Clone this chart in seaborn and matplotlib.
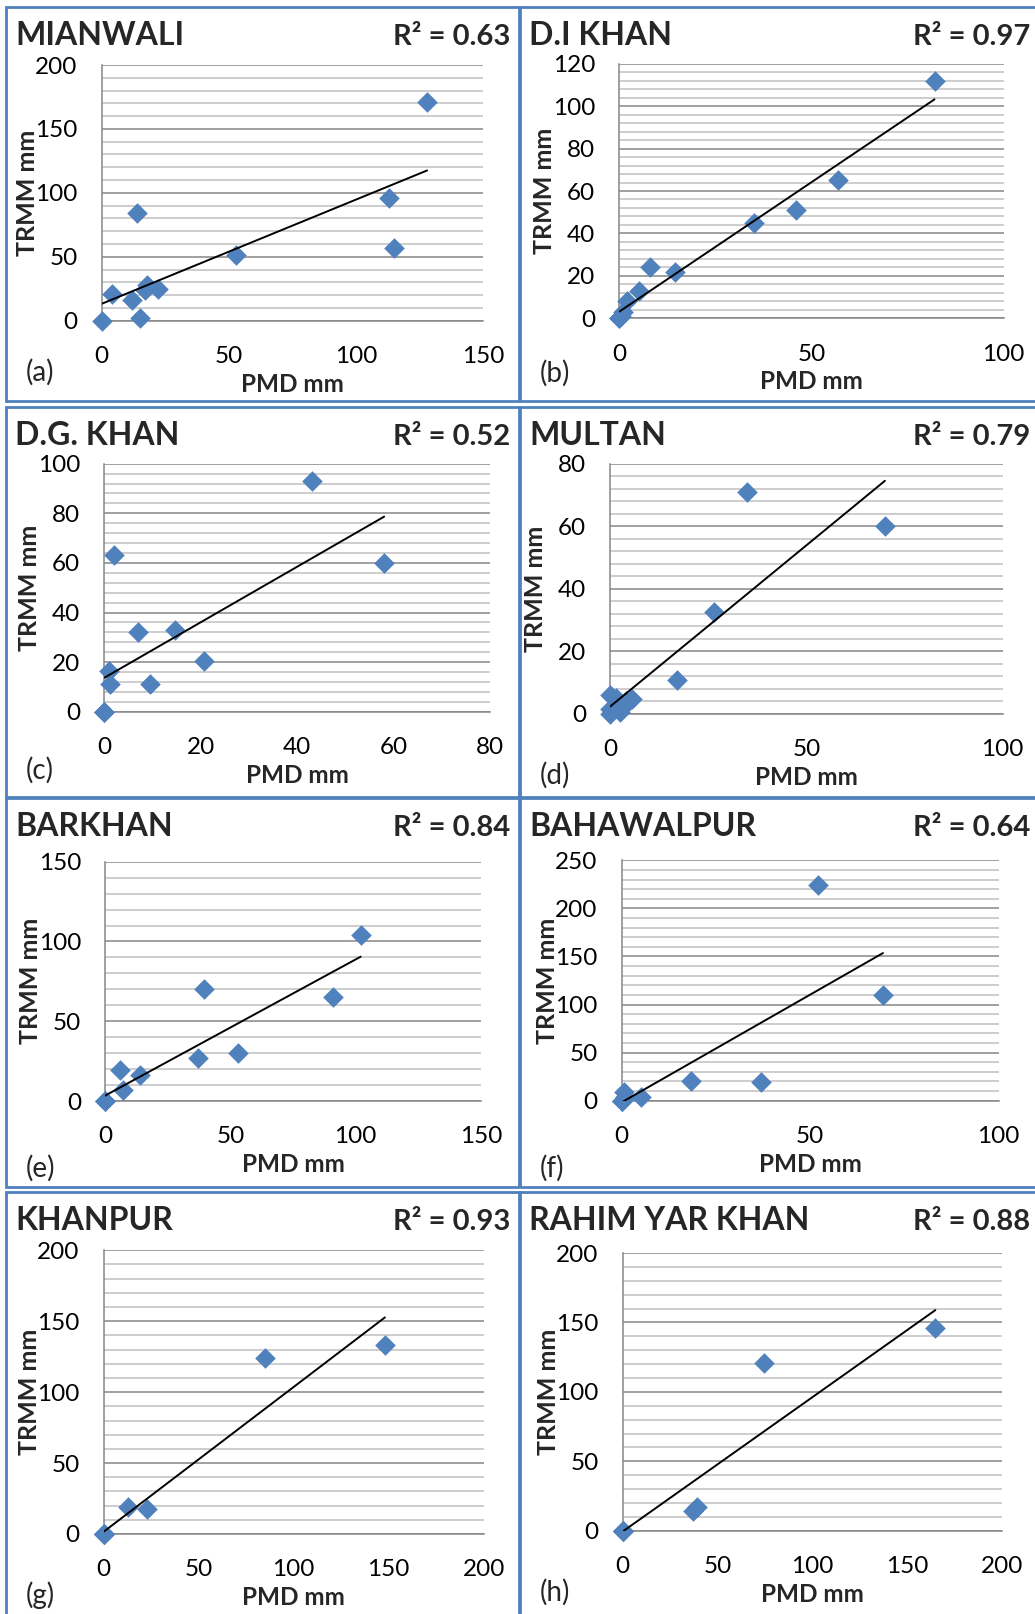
import numpy as np
import pandas as pd
import matplotlib
matplotlib.use("Agg")
import matplotlib.pyplot as plt
from matplotlib.patches import Rectangle
from matplotlib.ticker import MultipleLocator
import seaborn as sns

# --------------------- Data ---------------------

stations = ["MIANWALI", "D.I KHAN", "D.G. KHAN", "MULTAN",
            "BARKHAN", "BAHAWALPUR", "KHANPUR", "RAHIM YAR KHAN"]
letters = ["(a)", "(b)", "(c)", "(d)", "(e)", "(f)", "(g)", "(h)"]
r2_values = ["0.63", "0.97", "0.52", "0.79", "0.84", "0.64", "0.93", "0.88"]

mianwali_pmd = [0, 4, 12, 14, 15, 17, 18, 22, 53, 113, 115, 128]
mianwali_trmm = [0, 21, 16, 84, 2, 24, 28, 25, 51, 96, 57, 171]

dikhan_pmd = [0, 0, 0.5, 1, 2, 5, 8, 14.5, 35, 46, 57, 82]
dikhan_trmm = [0, 0, 1, 3, 8, 13, 24, 22, 45, 51, 65, 112]

dgkhan_pmd = [0, 0, 0, 1, 1.2, 2, 7, 9.5, 14.6, 20.7, 43, 58]
dgkhan_trmm = [0, 0, 0, 16.5, 11, 63, 32, 11, 33, 20.5, 93, 60]

multan_pmd = [0, 0, 0, 1.5, 2.5, 3, 4, 5.5, 17, 26.5, 35, 70]
multan_trmm = [0, 1.5, 6, 5, 0.5, 2, 4, 4.8, 11, 32.5, 71, 60]

barkhan_pmd = [0, 0, 0, 0, 6, 7, 14, 37, 39.5, 53, 91, 102]
barkhan_trmm = [0, 0, 0, 0, 19.5, 7, 16, 27, 70, 30, 65, 104]

bahawalpur_pmd = [0, 0, 0, 0, 0, 0.5, 1, 5, 18.4, 37, 52, 69.3]
bahawalpur_trmm = [0, 0, 0, 0, 0, 9, 4, 3.5, 20, 19.5, 224, 110]

khanpur_pmd = [0, 0, 0, 0, 0, 0, 0, 0, 12.6, 23, 85, 148]
khanpur_trmm = [0, 0, 0, 0, 0, 0, 0, 0, 19, 17.5, 124, 133]

rykhan_pmd = [0, 0, 0, 0, 0, 0, 0, 0, 37, 39, 74.6, 165]
rykhan_trmm = [0, 0, 0, 0, 0, 0, 0, 0, 14, 17, 121, 146]

pmd_values = [mianwali_pmd, dikhan_pmd, dgkhan_pmd, multan_pmd,
              barkhan_pmd, bahawalpur_pmd, khanpur_pmd, rykhan_pmd]
trmm_values = [mianwali_trmm, dikhan_trmm, dgkhan_trmm, multan_trmm,
               barkhan_trmm, bahawalpur_trmm, khanpur_trmm, rykhan_trmm]

x_max = [150, 100, 80, 100, 150, 100, 200, 200]
x_step = [50, 50, 20, 50, 50, 50, 50, 50]
y_max = [200, 120, 100, 80, 150, 250, 200, 200]
y_step = [50, 20, 20, 20, 50, 50, 50, 50]
y_minor = [10, 4, 4, 4, 10, 10, 10, 10]

# --------------------- Layout (pixels) ---------------------

W, H = 1035, 1614
col_edges = [(6, 519), (520, 1045)]
row_edges = [(7, 401), (407, 797), (798, 1187), (1192, 1625)]
axes_boxes = [
    (101.7, 65, 483, 320.7), (619.3, 63.7, 1003.7, 318.3),
    (104.3, 463.7, 490.3, 711.7), (610, 463.7, 1002.7, 714),
    (105, 861.7, 481, 1101), (621.7, 860.3, 998.7, 1100.7),
    (103.7, 1250.3, 483.7, 1534), (622.7, 1253, 1001.7, 1530.7),
]
letter_y = [372, 373, 770, 775, 1168, 1168, 1595, 1592]

sns.set_style("white")
plt.rcParams["font.family"] = ["Lato", "DejaVu Sans"]

blue = "#4F81BD"
major_grey = "#868686"
minor_grey = "#C0C0C0"

fig = plt.figure(figsize=(W / 100, H / 100), dpi=100)

for i in range(8):
    row, col = divmod(i, 2)
    cl, cr = col_edges[col]
    rt, rb = row_edges[row]

    # panel frame
    fig.patches.append(Rectangle((cl / W, 1 - rb / H), (cr - cl) / W, (rb - rt) / H,
                                 transform=fig.transFigure, fill=False,
                                 edgecolor=blue, linewidth=2))

    l, t, r, b = axes_boxes[i]
    ax = fig.add_axes([l / W, 1 - b / H, (r - l) / W, (b - t) / H])

    df = pd.DataFrame({"PMD": pmd_values[i], "TRMM": trmm_values[i]})
    sns.scatterplot(data=df, x="PMD", y="TRMM", ax=ax, marker="D", s=110,
                    color=blue, edgecolor=blue, linewidth=0, clip_on=False, zorder=3)
    sns.regplot(data=df, x="PMD", y="TRMM", ax=ax, scatter=False, ci=None,
                truncate=True, color="black", line_kws={"linewidth": 1.4, "zorder": 4})

    ax.set_xlim(0, x_max[i])
    ax.set_ylim(0, y_max[i])
    ax.set_xticks(np.arange(0, x_max[i] + 1, x_step[i]))
    ax.set_yticks(np.arange(0, y_max[i] + 1, y_step[i]))
    ax.yaxis.set_minor_locator(MultipleLocator(y_minor[i]))

    ax.set_axisbelow(True)
    ax.yaxis.grid(True, which="major", color=major_grey, linewidth=1.1)
    ax.yaxis.grid(True, which="minor", color=minor_grey, linewidth=1.1)
    ax.xaxis.grid(False)
    for side in ["top", "right"]:
        ax.spines[side].set_visible(False)
    for side in ["left", "bottom"]:
        ax.spines[side].set_color(major_grey)
        ax.spines[side].set_linewidth(1.1)

    ax.tick_params(axis="both", which="major", direction="out", length=6.3,
                   width=1.1, color=major_grey, labelsize=17.5, labelcolor="black")
    ax.tick_params(axis="y", which="major", pad=11)
    ax.tick_params(axis="x", which="major", pad=12)
    ax.tick_params(axis="y", which="minor", length=0)

    ax_w = r - l
    ax_h = b - t
    ax.set_xlabel("PMD mm", fontsize=17.5, fontweight="bold")
    ax.set_ylabel("TRMM mm", fontsize=18, fontweight="bold")
    ax.xaxis.set_label_coords(0.5, -52 / ax_h)
    ax.yaxis.set_label_coords(-63 / ax_w, 0.5)

    # station name, R² and panel letter
    base_y = 1 - (rt + 38) / H
    fig.text((cl + 9) / W, base_y, stations[i], fontsize=23, fontweight="bold",
             ha="left", va="baseline")
    fig.text((cr - 9 if col == 0 else 1030) / W, base_y, "R² = " + r2_values[i],
             fontsize=21, fontweight="bold", ha="right", va="baseline")
    fig.text((cl + 20) / W, 1 - letter_y[i] / H, letters[i], fontsize=20,
             ha="left", va="center")

fig.savefig("out.png", dpi=100)
